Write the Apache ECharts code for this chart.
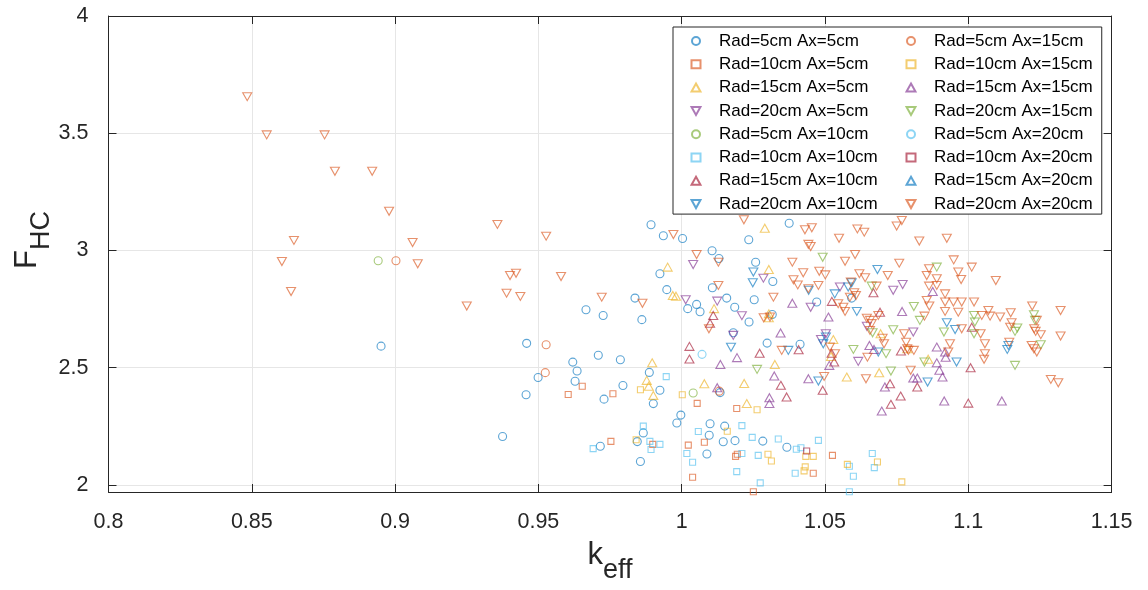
<!DOCTYPE html>
<html><head><meta charset="utf-8">
<script src="https://cdn.jsdelivr.net/npm/echarts@6/dist/echarts.min.js"></script>
<style>html,body{margin:0;padding:0;background:#fff}#c{width:1148px;height:590px}</style>
</head><body><div id="c"></div>
<script>
const seriesNames = ['Rad=5cm Ax=5cm','Rad=10cm Ax=5cm','Rad=15cm Ax=5cm','Rad=20cm Ax=5cm',
  'Rad=5cm Ax=10cm','Rad=10cm Ax=10cm','Rad=15cm Ax=10cm','Rad=20cm Ax=10cm',
  'Rad=5cm Ax=15cm','Rad=10cm Ax=15cm','Rad=15cm Ax=15cm','Rad=20cm Ax=15cm',
  'Rad=5cm Ax=20cm','Rad=10cm Ax=20cm','Rad=15cm Ax=20cm','Rad=20cm Ax=20cm'];
const xTicks = [0.8,0.85,0.9,0.95,1,1.05,1.1,1.15];
const yTicks = [2,2.5,3,3.5,4];

const r5a5 = [[0.8951,2.592],[0.9459,2.604],[0.9499,2.458],[0.9457,2.385],[0.9375,2.207],[0.962,2.524],[0.9635,2.486],[0.9628,2.442],
 [0.9893,3.110],[0.9936,3.063],[1.0003,3.051],[0.9924,2.901],[0.9948,2.833],[0.9837,2.797],[0.9666,2.747],[1.0021,2.752],[1.0052,2.770],[1.0064,2.739],
 [1.0106,2.999],[1.013,2.966],[1.0107,2.841],[1.0157,2.797],[1.0375,3.116],[1.0234,3.046],[1.0258,2.950],[1.0318,2.868],[1.0253,2.790],[1.0471,2.780],
 [0.9726,2.723],[0.9861,2.705],[0.9709,2.553],[0.9786,2.534],[0.9729,2.366],[0.9795,2.424],[0.9887,2.480],[0.9924,2.404],[0.9901,2.347],[0.9997,2.298],
 [0.9983,2.264],[0.9866,2.222],[0.9845,2.185],[0.9716,2.165],[0.9856,2.100],[1.0134,2.394],[1.0298,2.605],[1.0413,2.600],[1.0316,2.727],[1.0235,2.695],
 [1.0185,2.758],[1.018,2.649],[1.0367,2.161],[1.0283,2.187],[1.0186,2.189],[1.0145,2.184],[1.015,2.251],[1.0099,2.261],[1.0096,2.212],[1.0088,2.132],[1.0593,2.797]];
const r10a5 = [[0.9604,2.386],[0.9653,2.421],[0.976,2.389],[0.9753,2.186],[0.9899,2.173],[1.0054,2.348],[1.0192,2.326],[1.0194,2.131],[1.0188,2.122],
 [1.025,1.971],[1.0079,2.182],[1.0023,2.170],[1.0038,2.033],[1.0459,2.050],[1.0526,2.126]];
const r15a5 = [[0.9951,2.929],[0.9969,2.808],[0.998,2.805],[1.029,3.095],[1.0304,2.919],[1.0113,2.752],[0.9897,2.521],[0.9878,2.446],[0.9885,2.421],
 [0.9901,2.382],[1.0079,2.432],[1.0218,2.433],[1.0227,2.347],[1.0325,2.514],[1.0304,2.713],[1.0304,2.730],[1.0529,2.620],[1.0521,2.548],[1.0576,2.460],
 [1.0689,2.479],[1.0694,2.645],[1.0787,2.581],[1.086,2.536]];
const r20a5 = [[1.0014,2.790],[1.004,2.940],[1.0124,2.784],[1.0285,2.882],[1.045,2.758],[1.021,2.722],[1.018,2.638],[1.0486,2.620],[1.0503,2.645],
 [1.0552,2.844],[1.0771,2.855],[1.0738,2.830],[1.0646,2.677],[1.0808,2.652],[1.0616,2.527]];
const r5a10 = [[0.8941,2.956],[1.004,2.392]];
const r10a10 = [[0.9946,2.462],[0.9866,2.251],[0.9889,2.186],[0.9924,2.173],[0.9893,2.151],[0.9691,2.155],[1.0477,2.190],[1.0396,2.050],[1.0416,2.159],
 [1.04,2.152],[1.0337,2.196],[1.0246,2.203],[1.0267,2.126],[1.021,2.134],[1.0192,2.057],[1.0274,2.009],[1.021,2.253],[1.0058,2.228],[1.0018,2.134],
 [1.0038,2.097],[1.0665,2.134],[1.0672,2.074],[1.0585,2.080],[1.0599,2.037],[1.0585,1.971]];
const r15a10 = [[1.0027,2.591],[1.0027,2.537],[1.0272,2.562],[1.0346,2.425],[1.0366,2.375],[1.0408,2.577],[1.0099,2.690],[1.011,2.723],[1.0523,2.562],
 [1.0532,2.524],[1.0492,2.404],[1.0524,2.783],[1.0669,2.820],[1.0692,2.737],[1.0765,2.571],[1.0727,2.432],[1.0822,2.418],[1.0764,2.379],[1.073,2.344],
 [1.1,2.349],[1.1012,2.673],[1.1008,2.500]];
const r20a10 = [[1.025,2.908],[1.0248,2.862],[1.0443,2.830],[1.0534,2.815],[1.0172,2.587],[1.0372,2.574],[1.0494,2.602],[1.0503,2.631],[1.0477,2.443],
 [1.0683,2.919],[1.0581,2.844],[1.0593,2.862],[1.0611,2.740],[1.0686,2.567],[1.0858,2.439],[1.0925,2.692],[1.0954,2.663],[1.0959,2.524],[1.114,2.595],[1.1136,2.578]];
const r5a15 = [[0.9003,2.956],[0.9527,2.598],[0.9524,2.479],[1.0131,2.400]];
const r10a15 = [[0.9856,2.406],[1.0002,2.385],[0.9841,2.193],[1.0263,2.321],[1.0159,2.229],[1.0301,2.131],[1.0313,2.102],[1.0433,2.122],[1.0459,2.122],
 [1.0431,2.077],[1.0427,2.060],[1.0683,2.098],[1.0578,2.088],[1.0768,2.013]];
const r15a15 = [[1.0135,2.514],[1.0124,2.415],[1.0193,2.543],[1.0306,2.372],[1.0306,2.347],[1.0323,2.465],[1.0345,2.648],[1.0386,2.775],[1.0512,2.716],
 [1.0515,2.510],[1.0442,2.453],[1.0876,2.825],[1.0769,2.740],[1.0655,2.595],[1.0671,2.578],[1.0808,2.456],[1.0822,2.456],[1.0709,2.418],[1.089,2.588],
 [1.0919,2.567],[1.0921,2.545],[1.089,2.521],[1.0899,2.489],[1.091,2.460],[1.0698,2.315],[1.0916,2.358],[1.1117,2.358]];
const r20a15 = [[1.0492,2.971],[1.0263,2.493],[1.089,2.929],[1.081,2.761],[1.0831,2.702],[1.0663,2.848],[1.0666,2.649],[1.0738,2.662],[1.0599,2.578],
 [1.0713,2.560],[1.073,2.486],[1.0847,2.524],[1.0915,2.652],[1.102,2.645],[1.102,2.723],[1.1023,2.695],[1.1171,2.669],[1.1163,2.655],[1.1163,2.510],
 [1.1229,2.726],[1.1233,2.702],[1.1253,2.598]];
const r5a20 = [[1.0071,2.557]];
const r10a20 = [[1.0436,2.145]];
const r15a20 = [];
const r20a20 = [[0.8484,3.656],[0.8552,3.493],[0.8754,3.493],[0.879,3.338],[0.892,3.338],[0.8979,3.167],[0.8647,3.043],[0.9061,3.034],[0.8605,2.953],
 [0.9079,2.943],[0.8637,2.825],[0.9357,3.111],[0.9527,3.061],[0.9401,2.893],[0.9422,2.903],[0.9579,2.889],[0.9389,2.818],[0.9437,2.804],[0.925,2.763],
 [0.9721,2.801],[0.9971,3.068],[0.9863,2.775],[1.0052,2.983],[1.0128,2.950],[1.0128,2.851],[1.0217,3.131],[1.043,3.088],[1.0454,3.097],[1.0442,3.026],
 [1.045,3.017],[1.0386,2.950],[1.0424,2.905],[1.048,2.911],[1.0501,2.896],[1.039,2.875],[1.0405,2.853],[1.0477,2.851],[1.0442,2.837],[1.032,2.801],
 [1.0286,2.713],[1.0308,2.716],[1.0095,2.666],[1.0349,2.574],[1.0517,2.588],[1.0535,2.560],[1.0497,2.463],
 [1.0768,3.128],[1.075,3.104],[1.0613,3.092],[1.0637,3.078],[1.0549,3.052],[1.0829,3.040],[1.0925,3.052],[1.057,2.954],[1.0605,2.983],[1.0759,2.946],
 [1.0949,2.960],[1.1012,2.929],[1.1096,2.872],[1.062,2.901],[1.064,2.884],[1.0719,2.893],[1.0863,2.922],[1.0855,2.893],[1.089,2.879],[1.0863,2.848],
 [1.089,2.851],[1.0965,2.908],[1.0975,2.876],[1.0919,2.815],[1.0855,2.787],[1.0864,2.763],[1.0919,2.780],[1.0948,2.780],[1.0977,2.780],[1.102,2.780],
 [1.0919,2.740],[1.0965,2.737],[1.0847,2.720],[1.068,2.848],[1.059,2.865],[1.0602,2.820],[1.0608,2.808],[1.0587,2.801],[1.0546,2.773],[1.0564,2.758],
 [1.057,2.740],[1.0646,2.711],[1.0657,2.702],[1.0686,2.723],[1.0663,2.688],[1.0657,2.659],[1.0701,2.626],[1.0706,2.602],[1.0776,2.645],[1.0783,2.609],
 [1.0787,2.581],[1.0791,2.574],[1.081,2.574],[1.0648,2.545],[1.0643,2.453],[1.0799,2.489],[1.0936,2.602],[1.093,2.567],[1.0977,2.666],[1.1043,2.645],
 [1.1058,2.602],[1.1058,2.560],[1.1055,2.536],[1.1047,2.723],[1.1076,2.720],[1.1111,2.716],[1.107,2.744],[1.1148,2.734],[1.1151,2.692],[1.1146,2.673],
 [1.1143,2.609],[1.1223,2.763],[1.1239,2.702],[1.123,2.666],[1.1235,2.655],[1.1253,2.641],[1.1221,2.595],[1.1229,2.581],[1.1239,2.567],[1.1322,2.744],
 [1.1322,2.635],[1.1288,2.450],[1.1314,2.436]];

const seriesData = [r5a5,r10a5,r15a5,r20a5,r5a10,r10a10,r15a10,r20a10,r5a15,r10a15,r15a15,r20a15,r5a20,r10a20,r15a20,r20a20];

const palette = ['#0072BD','#D95319','#EDB120','#7E2F8E','#77AC30','#4DBEEE','#A2142F'];
const shapes = [
  {symbol:'circle', size:8},
  {symbol:'rect', size:6},
  {symbol:'path://M5,0L10,9L0,9Z', size:[9,8]},
  {symbol:'path://M0,0L10,0L5,9Z', size:[9,8]}
];
function hexA(h,a){const n=parseInt(h.slice(1),16);return `rgba(${n>>16&255},${n>>8&255},${n&255},${a})`;}

const FONT = '"Liberation Sans", Arial, sans-serif';
const series = seriesData.map((d,i)=>{
  const sh = shapes[i%4];
  const col = palette[i%7];
  return {
    name: seriesNames[i], type:'scatter', data:d,
    symbol: sh.symbol, symbolSize: sh.size,
    clip:false,
    itemStyle:{color:'rgba(0,0,0,0)', borderColor: hexA(col,0.8), borderWidth:1.1},
    emphasis:{disabled:true}
  };
});

const axisCol = '#262626';
const legendBase = {
  orient:'vertical', itemWidth:9, itemHeight:8, itemGap:6.3, selectedMode:false,
  textStyle:{fontSize:17, color:'#000', fontFamily:FONT, padding:[0,0,0,13.5], width:165}
};
const chart = echarts.init(document.getElementById('c'), null, {renderer:'canvas'});
chart.setOption({
  animation:false,
  backgroundColor:'#fff',
  textStyle:{fontFamily:FONT},
  grid:{left:108.5, right:36.4, top:16, bottom:98, containLabel:false, outerBoundsMode:'none'},
  legend:[
    Object.assign({}, legendBase, {
      data: seriesNames.slice(0,8), left:673, top:27, padding:[5.5,224,1.5,17.5],
      backgroundColor:'#fff', borderColor:axisCol, borderWidth:1
    }),
    Object.assign({}, legendBase, {
      data: seriesNames.slice(8), left:905.5, top:32.5, padding:0
    })
  ],
  xAxis:[{
    type:'value', min:0.8, max:1.15, interval:0.05,
    axisLine:{show:true, onZero:false, lineStyle:{color:axisCol, width:1}},
    axisTick:{show:true, inside:true, length:8, lineStyle:{color:axisCol}},
    axisLabel:{fontSize:21.5, color:axisCol, margin:19, formatter:v=>String(+v.toFixed(2))},
    splitLine:{show:true, lineStyle:{color:'#e6e6e6', width:1}},
    name:'{k|k}{s|eff}', nameLocation:'middle', nameGap:48, nameMoveOverlap:false,
    nameTextStyle:{rich:{k:{fontSize:31, color:axisCol, verticalAlign:'top', fontFamily:FONT}, s:{fontSize:27, color:axisCol, verticalAlign:'top', padding:[17,0,0,0], fontFamily:FONT}}}
  },{
    type:'value', position:'top', min:0.8, max:1.15, interval:0.05,
    axisLine:{show:true, onZero:false, lineStyle:{color:axisCol, width:1}},
    axisTick:{show:true, inside:true, length:8, lineStyle:{color:axisCol}},
    axisLabel:{show:false}, splitLine:{show:false}
  }],
  yAxis:[{
    type:'value', min:1.97, max:4,
    axisLine:{show:true, onZero:false, lineStyle:{color:axisCol, width:1}},
    axisTick:{show:true, inside:true, length:8, lineStyle:{color:axisCol}, customValues:yTicks},
    axisLabel:{fontSize:21.5, color:axisCol, margin:20, customValues:yTicks},
    splitLine:{show:true, lineStyle:{color:'#e6e6e6', width:1}},
    name:'{k|F}{s|HC}', nameLocation:'middle', nameGap:53, nameMoveOverlap:false,
    nameTextStyle:{padding:[0,0,0,28], rich:{k:{fontSize:31, color:axisCol, verticalAlign:'top', fontFamily:FONT}, s:{fontSize:27, color:axisCol, verticalAlign:'top', padding:[17,0,0,0], fontFamily:FONT}}}
  },{
    type:'value', position:'right', min:1.97, max:4,
    axisLine:{show:true, onZero:false, lineStyle:{color:axisCol, width:1}},
    axisTick:{show:true, inside:true, length:8, lineStyle:{color:axisCol}, customValues:yTicks},
    axisLabel:{show:false}, splitLine:{show:false}
  }],
  series: series
});
</script>
</body></html>
